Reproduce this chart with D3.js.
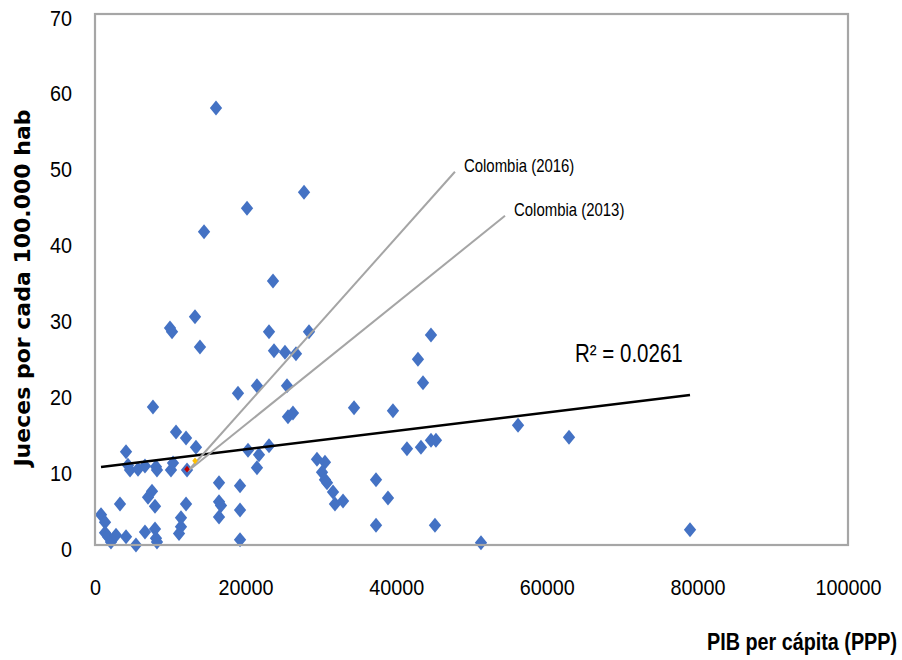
<html>
<head>
<title>Jueces vs PIB</title>
<style>
  body { margin: 0; background: #fff; }
</style>
</head>
<body>
<div id="svghere"></div>
<script src="https://d3js.org/d3.v7.min.js"></script>
<script>
// GDP per capita (PPP) and judges per 100,000 inhabitants, one entry per country
var gdp = [16070, 27760, 20190, 14480, 23640, 13280, 9960, 10230, 13940, 23110,
           28420, 23770, 25230, 26690, 18990, 21510, 25500, 25630, 26290, 7700,
           34400, 39570, 44620, 42890, 43560, 56180, 62950, 79020, 51260, 45150,
           37320, 37320, 38910, 41430, 43290, 44620, 45280, 29480, 30540, 30150,
           30540, 30810, 31610, 31870, 32940, 20320, 21780, 21510, 23110, 16470,
           19260, 16470, 16730, 16470, 19260, 19260, 10760, 12090, 13410, 4120,
           4650, 5710, 6640, 8100, 8230, 10090, 10360, 12220, 4380, 7570,
           7040, 7970, 3320, 12090, 11420, 11420, 11160, 800, 1330, 1330,
           1730, 2120, 2790, 4120, 5440, 6640, 7970, 8100, 8230];
var judges = [57.6, 46.5, 44.4, 41.3, 34.8, 30.1, 28.6, 28.1, 26.1, 28.1,
              28.1, 25.6, 25.4, 25.2, 20.0, 21.0, 21.0, 16.9, 17.4, 18.2,
              18.1, 17.7, 27.7, 24.5, 21.4, 15.8, 14.2, 2.0, 0.3, 2.6,
              2.6, 8.6, 6.2, 12.7, 12.9, 13.8, 13.8, 11.3, 10.9, 9.6,
              8.6, 8.2, 7.0, 5.4, 5.8, 12.5, 11.9, 10.2, 13.1, 8.2,
              7.8, 5.7, 5.2, 3.7, 4.6, 0.7, 14.9, 14.1, 12.9, 12.3,
              9.9, 10.0, 10.4, 10.3, 9.9, 9.9, 10.8, 9.9, 10.5, 7.1,
              6.3, 5.1, 5.4, 5.4, 3.6, 2.4, 1.5, 4.0, 3.0, 1.6,
              1.1, 0.4, 1.3, 1.1, 0.0, 1.7, 2.1, 0.9, 0.4];

// Colombia highlights
var colombiaYears = ["Colombia (2016)", "Colombia (2013)"];
var colombiaGdp = [13280, 12220];
var colombiaJudges = [11.1, 10.0];
var colombiaColors = ["#FFC000", "#C00000"];
var leaderStart = [12350, 9.75];
var leaderEndGdp = [47800, 54450];
var leaderEndJudges = [49.2, 43.4];

// linear trend line
var trendIntercept = 10.2;
var trendSlope = 0.0001213;
var rSquared = "R\u00B2 = 0.0261";

var xTicks = [0, 20000, 40000, 60000, 80000, 100000];
var yTicks = [0, 10, 20, 30, 40, 50, 60, 70];

var W = 902, H = 660;
var svg = d3.select("#svghere")
    .append("svg")
    .attr("width", W)
    .attr("height", H);

var x = d3.scaleLinear().domain([0, 100000]).range([95, 848]);
var y = d3.scaleLinear().domain([0, 70]).range([545, 14]);

var font = "'Liberation Sans', Arial, sans-serif";

// excel-like diamond: a bit taller than wide
var diamond = {
    draw: function(ctx, size) {
        var h = Math.sqrt(size) * 0.75, w = h * 0.82;
        ctx.moveTo(0, -h);
        ctx.lineTo(w, 0);
        ctx.lineTo(0, h);
        ctx.lineTo(-w, 0);
        ctx.closePath();
    }
};

// axes (labels only, the frame is drawn separately)
var xAxis = svg.append("g")
    .attr("transform", "translate(0,545)")
    .call(d3.axisBottom(x).tickValues(xTicks).tickSize(0).tickFormat(d3.format("d")));
xAxis.select(".domain").remove();
xAxis.selectAll("text")
    .attr("y", 0)
    .attr("dy", 0)
    .attr("transform", "translate(0,50) scale(0.9,1)")
    .style("font-family", font)
    .style("font-size", "22px")
    .attr("fill", "#000");

var yAxis = svg.append("g")
    .attr("transform", "translate(95,0)")
    .call(d3.axisLeft(y).tickValues(yTicks).tickSize(0));
yAxis.select(".domain").remove();
yAxis.selectAll("text")
    .attr("x", 0)
    .attr("dy", "0.5em")
    .attr("transform", "translate(-23,0) scale(0.9,1)")
    .style("font-family", font)
    .style("font-size", "22px")
    .attr("fill", "#000");

// points
var pts = d3.range(gdp.length);
svg.append("g")
    .selectAll("path")
    .data(pts)
    .enter()
    .append("path")
    .attr("d", d3.symbol().type(diamond).size(100))
    .attr("transform", function(i) {
        return "translate(" + x(gdp[i]) + "," + y(judges[i]) + ")";
    })
    .attr("fill", "#4472C4");

// plot frame
svg.append("rect")
    .attr("x", 95)
    .attr("y", 14)
    .attr("width", 753)
    .attr("height", 531)
    .attr("fill", "none")
    .attr("stroke", "#A6A6A6")
    .attr("stroke-width", 2.2);

// trend line
var xMin = d3.min(gdp), xMax = d3.max(gdp);
svg.append("line")
    .attr("x1", x(xMin))
    .attr("y1", y(trendIntercept + trendSlope * xMin))
    .attr("x2", x(xMax))
    .attr("y2", y(trendIntercept + trendSlope * xMax))
    .attr("stroke", "#000")
    .attr("stroke-width", 2.5);

svg.append("text")
    .attr("transform", "translate(575,362) scale(0.82,1)")
    .style("font-family", font)
    .style("font-size", "25px")
    .text(rSquared);

// Colombia leader lines and labels
colombiaYears.forEach(function(label, i) {
    svg.append("line")
        .attr("x1", x(leaderStart[0]))
        .attr("y1", y(leaderStart[1]))
        .attr("x2", x(leaderEndGdp[i]))
        .attr("y2", y(leaderEndJudges[i]))
        .attr("stroke", "#A5A5A5")
        .attr("stroke-width", 2);
    svg.append("text")
        .attr("transform", "translate(" + (x(leaderEndGdp[i]) + 9) + "," +
              (y(leaderEndJudges[i]) + 0) + ") scale(0.83,1)")
        .style("font-family", font)
        .style("font-size", "18px")
        .text(label);
});

svg.append("g")
    .selectAll("path")
    .data(colombiaYears)
    .enter()
    .append("path")
    .attr("d", d3.symbol().type(diamond).size(20))
    .attr("transform", function(d, i) {
        return "translate(" + x(colombiaGdp[i]) + "," + y(colombiaJudges[i]) + ")";
    })
    .attr("fill", function(d, i) { return colombiaColors[i]; });

// axis titles
svg.append("text")
    .attr("transform", "translate(30,288) rotate(-90)")
    .attr("text-anchor", "middle")
    .style("font-family", "'DejaVu Sans', Verdana, sans-serif")
    .style("font-weight", "bold")
    .style("font-size", "22px")
    .text("Jueces por cada 100.000 hab");

svg.append("text")
    .attr("transform", "translate(707,650) scale(0.86,1)")
    .style("font-family", font)
    .style("font-weight", "bold")
    .style("font-size", "23px")
    .text("PIB per cápita (PPP)");
</script>
</body>
</html>
